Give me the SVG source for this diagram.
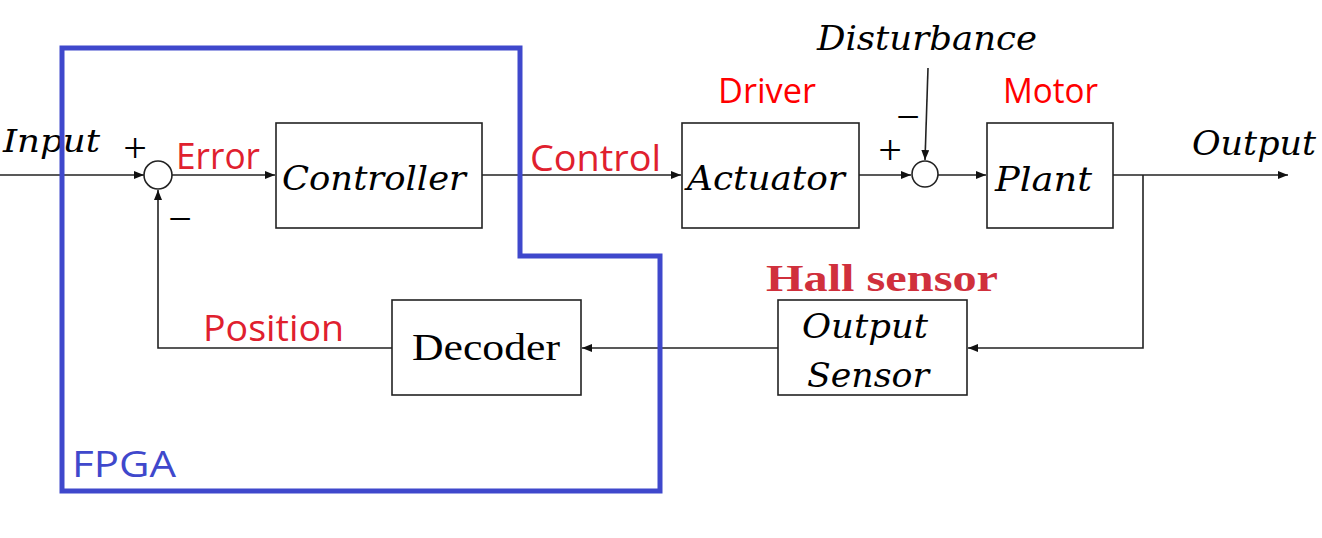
<svg xmlns="http://www.w3.org/2000/svg" width="1322" height="538" viewBox="0 0 1322 538">
<style>
.box{fill:#fff;stroke:#222;stroke-width:1.6}
.ln{fill:none;stroke:#222;stroke-width:1.6}
.it{font-family:"DejaVu Serif","Liberation Serif",serif;font-style:italic;fill:#000}
.rm{font-family:"Liberation Serif",serif;fill:#000}
.lbl{font-family:"Open Sans","Liberation Sans",sans-serif;fill:#e0202e}
.lbl2{font-family:"Open Sans","Liberation Sans",sans-serif;fill:#ff0000}
.sign{font-family:"Liberation Serif",serif;fill:#000}
</style>
<defs>
<marker id="ah" markerWidth="10" markerHeight="8" refX="10" refY="4" orient="auto" markerUnits="userSpaceOnUse">
<path d="M0,0 L10,4 L0,8 Z" fill="#111"/>
</marker>
</defs>
<rect width="1322" height="538" fill="#fff"/>
<g id="connectors">
<path class="ln" d="M0,175 H144" marker-end="url(#ah)"/>
<path class="ln" d="M172,175 H275" marker-end="url(#ah)"/>
<path class="ln" d="M482,175 H681" marker-end="url(#ah)"/>
<path class="ln" d="M859,175 H911" marker-end="url(#ah)"/>
<path class="ln" d="M938,175 H986" marker-end="url(#ah)"/>
<path class="ln" d="M1113,175 H1288" marker-end="url(#ah)"/>
<path class="ln" d="M928,68 L925,160" marker-end="url(#ah)"/>
<path class="ln" d="M1143,175 V348 H968" marker-end="url(#ah)"/>
<path class="ln" d="M778,348 H582" marker-end="url(#ah)"/>
<path class="ln" d="M392,348 H158 V190" marker-end="url(#ah)"/>
</g>
<g id="sum1">
<circle cx="158" cy="175" r="14" class="box"/>
<text class="sign" x="135" y="162" font-size="42" text-anchor="middle">+</text>
<text class="sign" x="180" y="233" font-size="42" text-anchor="middle">−</text>
</g>
<g id="sum2">
<circle cx="925" cy="174" r="13" class="box"/>
<text class="sign" x="890" y="164" font-size="42" text-anchor="middle">+</text>
<text class="sign" x="908" y="131" font-size="42" text-anchor="middle">−</text>
</g>
<g id="controller">
<rect class="box" x="276" y="123" width="206" height="105"/>
<text class="it" x="282" y="190" font-size="34" textLength="184" lengthAdjust="spacingAndGlyphs">Controller</text>
</g>
<g id="actuator">
<rect class="box" x="682" y="123" width="177" height="105"/>
<text class="it" x="687" y="190" font-size="34" textLength="158" lengthAdjust="spacingAndGlyphs">Actuator</text>
</g>
<g id="plant">
<rect class="box" x="987" y="123" width="126" height="105"/>
<text class="it" x="995" y="191" font-size="34" textLength="97" lengthAdjust="spacingAndGlyphs">Plant</text>
</g>
<g id="decoder">
<rect class="box" x="392" y="300" width="189" height="95"/>
<text class="rm" x="412" y="360" font-size="38" textLength="148" lengthAdjust="spacingAndGlyphs">Decoder</text>
</g>
<g id="output-sensor">
<rect class="box" x="778" y="300" width="189" height="95"/>
<text class="it" x="802" y="338" font-size="34" textLength="126" lengthAdjust="spacingAndGlyphs">Output</text>
<text class="it" x="807" y="387" font-size="34" textLength="122" lengthAdjust="spacingAndGlyphs">Sensor</text>
</g>
<g id="labels">
<text class="it" x="3" y="152" font-size="32" textLength="97" lengthAdjust="spacingAndGlyphs">Input</text>
<text class="it" x="817" y="50" font-size="34" textLength="220" lengthAdjust="spacingAndGlyphs">Disturbance</text>
<text class="it" x="1192" y="155" font-size="34" textLength="124" lengthAdjust="spacingAndGlyphs">Output</text>
<text class="lbl" x="176" y="169" font-size="37" textLength="84" lengthAdjust="spacingAndGlyphs">Error</text>
<text class="lbl" x="530" y="171" font-size="37" textLength="131" lengthAdjust="spacingAndGlyphs">Control</text>
<text class="lbl" x="203" y="341" font-size="36" textLength="141" lengthAdjust="spacingAndGlyphs">Position</text>
<text class="lbl2" x="718" y="103" font-size="34" textLength="98" lengthAdjust="spacingAndGlyphs">Driver</text>
<text class="lbl2" x="1003" y="103" font-size="34" textLength="95" lengthAdjust="spacingAndGlyphs">Motor</text>
<text x="766" y="291" font-size="38" font-weight="bold" font-family="Liberation Serif,serif" fill="#d0303c" textLength="232" lengthAdjust="spacingAndGlyphs">Hall sensor</text>
</g>
<g id="fpga">
<path d="M62,48 H520 V256 H660 V491 H62 Z" fill="none" stroke="#3f48cc" stroke-width="5"/>
<text x="72" y="477" font-size="36" font-family="Open Sans,Liberation Sans,sans-serif" fill="#3f48cc" textLength="104" lengthAdjust="spacingAndGlyphs">FPGA</text>
</g>
</svg>
